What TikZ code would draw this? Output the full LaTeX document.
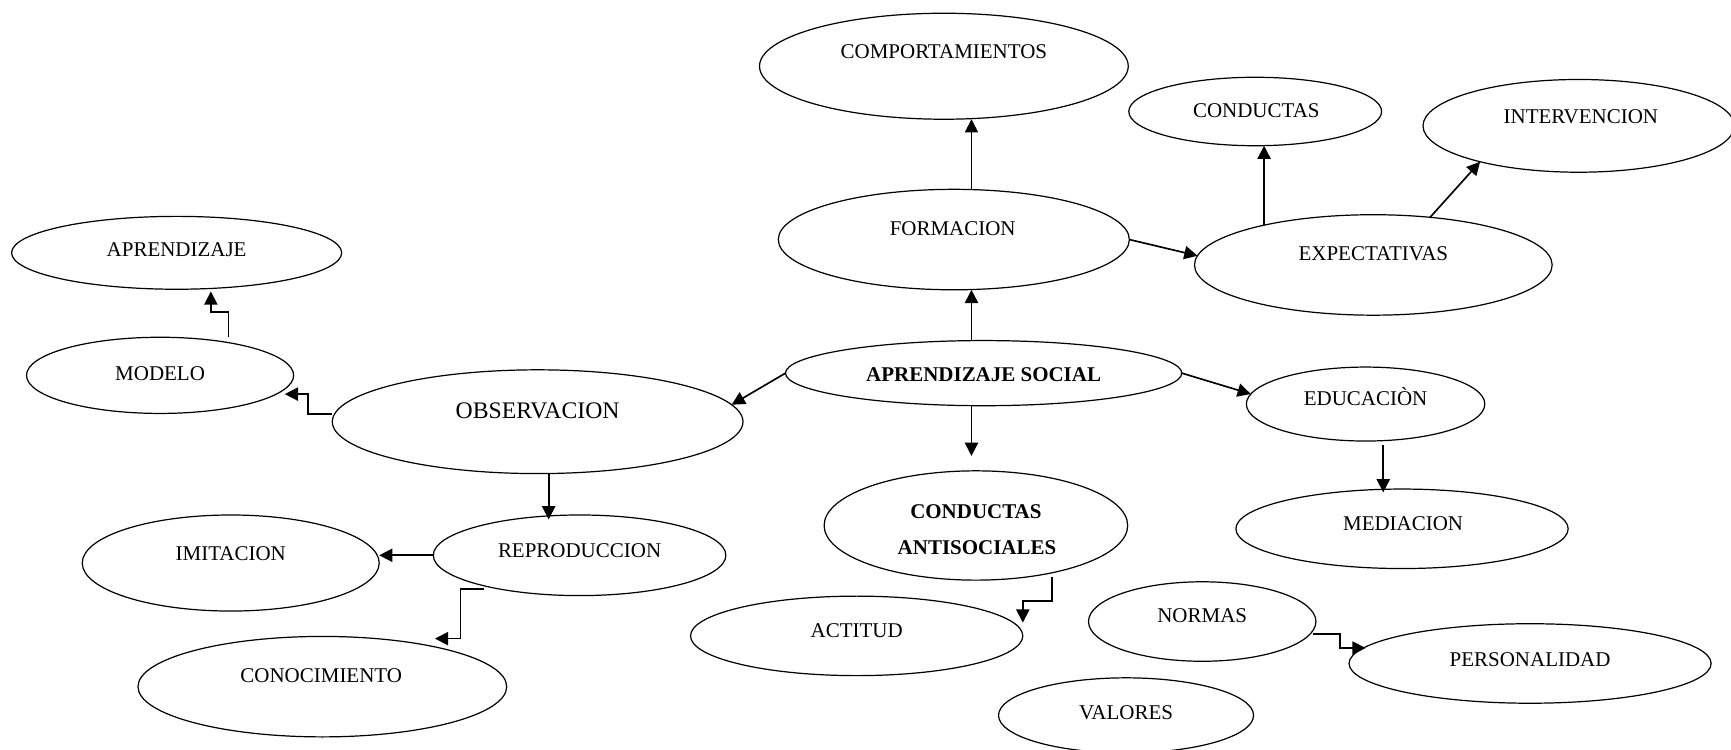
\documentclass[tikz,border=0pt]{standalone}
\usepackage{fontspec}
\setmainfont{Liberation Serif}
\usetikzlibrary{shapes.geometric,arrows.meta}
\begin{document}
\begin{tikzpicture}[x=1pt,y=-1pt,
  ell/.style={draw,ellipse,line width=1.1pt,inner sep=0pt,outer sep=0pt},
  lbl/.style={inner sep=0pt,text height=12.6pt,text depth=0pt,font=\fontsize{19}{22}\selectfont},
  conn/.style={line width=1.5pt,-{Triangle[length=12pt,width=12pt]}}
]
\useasboundingbox (0,0) rectangle (1568,679);
\fill[white] (0,0) rectangle (1568,679);

% ellipses
\node[ell,minimum width=334pt,minimum height=96pt] (comp) at (855,60) {};
\node[ell,minimum width=229pt,minimum height=62pt] (cond) at (1137,101) {};
\node[ell,minimum width=282pt,minimum height=84pt] (interv) at (1430,114) {};
\node[ell,minimum width=318pt,minimum height=91pt] (form) at (864,217) {};
\node[ell,minimum width=324pt,minimum height=91pt] (expect) at (1244,240) {};
\node[ell,minimum width=299pt,minimum height=66pt] (aprend) at (160,229) {};
\node[ell,minimum width=242pt,minimum height=69pt] (model) at (145,340) {};
\node[ell,minimum width=372pt,minimum height=94pt] (obs) at (487,382) {};
\node[ell,minimum width=359pt,minimum height=59pt] (aps) at (891,338) {};
\node[ell,minimum width=216pt,minimum height=67pt] (educ) at (1237,366) {};
\node[ell,minimum width=265pt,minimum height=73pt] (repro) at (525,503) {};
\node[ell,minimum width=269pt,minimum height=87pt] (imit) at (209,510) {};
\node[ell,minimum width=275pt,minimum height=99pt] (ca) at (884,476) {};
\node[ell,minimum width=301pt,minimum height=72pt] (medi) at (1270,479) {};
\node[ell,minimum width=334pt,minimum height=91pt] (conoc) at (292,622) {};
\node[ell,minimum width=301pt,minimum height=72pt] (act) at (776,576) {};
\node[ell,minimum width=206pt,minimum height=72pt] (norm) at (1089,563) {};
\node[ell,minimum width=328pt,minimum height=72pt] (person) at (1386,601) {};
\node[ell,minimum width=231pt,minimum height=68pt] (val) at (1020,648) {};

% labels
\node[lbl] (tcomp) at (855,47) {COMPORTAMIENTOS};
\node[lbl] (tcond) at (1138,100) {CONDUCTAS};
\node[lbl] (tinterv) at (1432,106) {INTERVENCION};
\node[lbl] (tform) at (863,207) {FORMACION};
\node[lbl] (texpect) at (1244,230) {EXPECTATIVAS};
\node[lbl] (taprend) at (160,226) {APRENDIZAJE};
\node[lbl] (tmodel) at (145,338) {MODELO};
\node[lbl,font=\fontsize{21.5}{24}\selectfont,text height=14.2pt] (tobs) at (487,372) {OBSERVACION};
\node[lbl,font=\fontsize{19}{22}\selectfont\bfseries] (taps) at (891,339) {APRENDIZAJE SOCIAL};
\node[lbl] (teduc) at (1237,361) {EDUCACIÒN};
\node[lbl] (trepro) at (525,499) {REPRODUCCION};
\node[lbl] (timit) at (209,501) {IMITACION};
\node[lbl,font=\fontsize{19}{22}\selectfont\bfseries] (tca1) at (884,463) {CONDUCTAS};
\node[lbl,font=\fontsize{19}{22}\selectfont\bfseries] (tca2) at (885,496) {ANTISOCIALES};
\node[lbl] (tmedi) at (1271,474) {MEDIACION};
\node[lbl] (tconoc) at (291,612) {CONOCIMIENTO};
\node[lbl] (tact) at (776,571) {ACTITUD};
\node[lbl] (tnorm) at (1089,558) {NORMAS};
\node[lbl] (tperson) at (1386,597) {PERSONALIDAD};
\node[lbl] (tval) at (1020,645) {VALORES};

% connectors
\coordinate (cadown) at (880,413);
\draw[conn] ([xshift=16pt]form.north) -- ([xshift=16pt]form.north |- comp.south);
\draw[conn] ([xshift=-11pt]aps.north) -- ([xshift=-11pt]aps.north |- form.south);
\draw[conn] ([xshift=-11pt]aps.south) -- (cadown);
\draw[conn] (form.east) -- (expect.177);
\draw[conn] (expect.160.9) -- (expect.160.9 |- cond.south);
\draw[conn] (expect.40) -- (interv.200);
\draw[conn] (aps.east) -- (educ.175);
\draw[conn] ([xshift=16pt,yshift=-4pt]educ.south) -- ([xshift=-17pt,yshift=-3pt]medi.north);
\draw[conn] (aps.west) -- (obs.5);
\draw[conn] ([xshift=10pt]obs.south) -- ([xshift=-28pt,yshift=-4pt]repro.north);
\draw[conn] (repro.west) -- (repro.west -| imit.east);
\draw[conn] ([yshift=7pt]obs.west) -- ++(-22,0) |- ([xshift=-8pt,yshift=-17pt]model.east);
\draw[conn] ([xshift=62pt]model.north) -- ++(0,-23) -| ([xshift=31pt,yshift=-2pt]aprend.south);
\draw[conn] ([xshift=-87pt,yshift=6pt]repro.south) -- ++(-21,0) |- ([xshift=102pt,yshift=-2pt]conoc.north);
\draw[conn] ([xshift=69pt,yshift=3pt]ca.south) -- ++(0,22) -| ([yshift=12pt]act.east);
\draw[conn] ([xshift=-3pt,yshift=-11pt]norm.east) -- ++(25,0) |- ([xshift=15pt,yshift=14pt]person.west);
\end{tikzpicture}
\end{document}
